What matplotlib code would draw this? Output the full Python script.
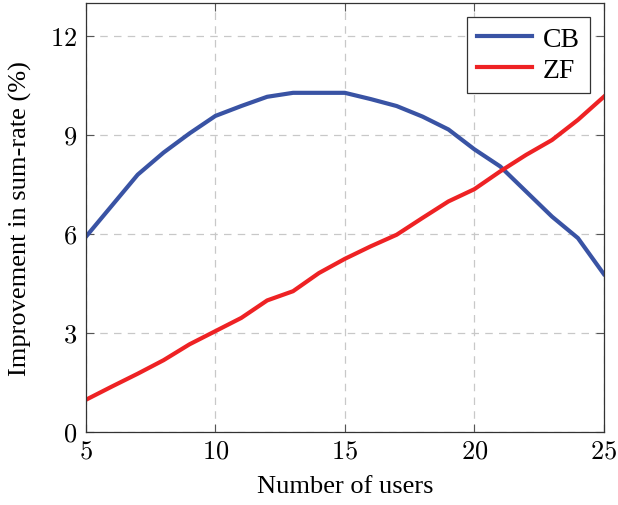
import matplotlib
matplotlib.use('Agg')
import matplotlib.pyplot as plt
from matplotlib.ticker import FuncFormatter

plt.rcParams['font.family'] = ['Liberation Serif', 'DejaVu Serif']
plt.rcParams['mathtext.fontset'] = 'cm'

users = [5, 6, 7, 8, 9, 10, 11, 12, 13, 14, 15, 16, 17, 18, 19, 20, 21, 22, 23, 24, 25]
cb = [5.92, 6.86, 7.8, 8.47, 9.05, 9.58, 9.88, 10.16, 10.28, 10.28, 10.28,
      10.09, 9.88, 9.56, 9.17, 8.57, 8.05, 7.29, 6.53, 5.88, 4.79]
zf = [0.98, 1.38, 1.77, 2.18, 2.66, 3.06, 3.46, 3.99, 4.27, 4.82, 5.25,
      5.63, 5.98, 6.49, 6.99, 7.36, 7.9, 8.4, 8.85, 9.46, 10.16]
xticks = [5, 10, 15, 20, 25]
yticks = [0, 3, 6, 9, 12]

fig = plt.figure(figsize=(6.18, 5.06), dpi=100)
ax = fig.add_axes([0.139, 0.144, 0.838, 0.848])

ax.plot(users, cb, color='#3953a4', lw=3, label='CB')
ax.plot(users, zf, color='#ee2224', lw=3, label='ZF')

ax.set_xlim(5, 25)
ax.set_ylim(0, 13)
ax.set_xticks(xticks)
ax.set_yticks(yticks)
fmt = FuncFormatter(lambda v, p: r'$%d$' % v)
ax.xaxis.set_major_formatter(fmt)
ax.yaxis.set_major_formatter(fmt)
ax.tick_params(direction='in', length=6, width=0.8, color='#555555',
               labelsize=19, top=True, right=True, pad=6)
ax.grid(True, color='#c8c8c8', linestyle=(0, (6, 5)), lw=0.9)
for s in ax.spines.values():
    s.set_color('#333333')
    s.set_linewidth(0.9)

ax.set_xlabel('Number of users', fontsize=19, labelpad=9)
ax.set_ylabel('Improvement in sum-rate (%)', fontsize=19, labelpad=13)

leg = ax.legend(loc='upper right', fontsize=20, fancybox=False, framealpha=1,
                edgecolor='#333333', handlelength=2.0, borderpad=0.35,
                labelspacing=0.2, handletextpad=0.4, borderaxespad=0.5)
leg.get_frame().set_linewidth(0.9)

fig.savefig('out.png', dpi=100)
